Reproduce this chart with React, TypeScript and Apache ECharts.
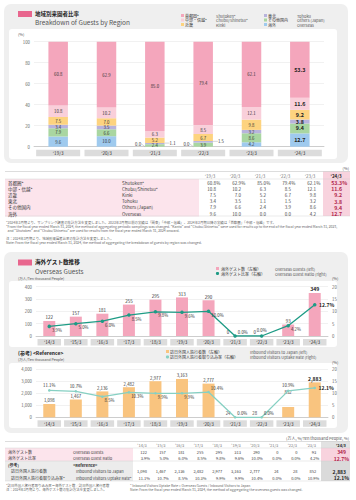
import React, { useEffect, useRef } from "react";
import * as echarts from "echarts";

const FONT = '"Noto Sans CJK JP", "Noto Sans", sans-serif';

// ---- Data: breakdown of guests by region (%) ----
const regionYears = ["'19/3", "'20/3", "'21/3", "'22/3", "'23/3", "'24/3"];
const regionNamesJa = ["首都圏*", "中部・信越*", "近畿", "東北", "その他国内", "海外"];
const regionNamesEn = ["Shutoken*", "Chubu/Shinetsu*", "Kinki", "Tohoku", "Others (Japan)", "Overseas"];
const shutoken = [60.8, 62.9, 85.0, 79.4, 62.1, 53.3];
const chubu = [10.8, 10.2, 6.3, 8.5, 12.1, 11.6];
const kinki = [7.5, 7.0, 5.2, 6.7, 9.8, 9.2];
const tohoku = [3.4, 3.5, 1.1, 1.5, 3.2, 3.8];
const othersJapan = [7.9, 6.6, 2.4, 3.9, 8.6, 9.4];
const overseas = [9.6, 10.0, 0.0, 0.0, 4.2, 12.7];
const regionSeries = [shutoken, chubu, kinki, tohoku, othersJapan, overseas];
const regionColors = ["#f4a6bc", "#f9cfda", "#fdd37f", "#b8b3dc", "#a9d6a1", "#9fcaee"];

// ---- Data: overseas guests ----
const guestYears = ["'14/3", "'15/3", "'16/3", "'17/3", "'18/3", "'19/3", "'20/3", "'21/3", "'22/3", "'23/3", "'24/3"];
const overseasGuests = [122, 157, 181, 255, 295, 313, 290, 0, 0, 93, 349];
const overseasRatio = [3.9, 5.0, 6.0, 8.5, 9.8, 9.6, 10.0, 0.0, 0.0, 4.2, 12.7];
const inboundVisitors = [1098, 1467, 2136, 2482, 2977, 3163, 2777, 24, 28, 852, 2883];
const uptakeRate = [11.1, 10.7, 8.5, 10.3, 9.9, 9.9, 10.4, 0.0, 0.0, 10.9, 12.1];

// label placement styles
const ratioLabelPos = ["rb", "rb", "rb", "rb", "rb", "rb", "rb", "ra", "t", "rb", "r"];
const uptakeLabelPos = ["t", "t", "rb", "rb", "rb", "rb", "ra", "ra", "ra", "t", "r"];

const fmt = (v: number) => v.toLocaleString("en-US");

const T = (text: string, x: number, y: number, o: any = {}) => ({
  type: "text",
  x,
  y,
  silent: true,
  z: 5,
  style: {
    text,
    fill: o.fill || "#333",
    fontSize: o.size || 4.5,
    fontFamily: FONT,
    fontWeight: o.bold ? "bold" : "normal",
    align: o.align || "left",
    verticalAlign: "middle",
  },
});
const R = (x: number, y: number, w: number, h: number, fill: string, r = 0, z = -10) => ({
  type: "rect",
  silent: true,
  z,
  shape: { x, y, width: w, height: h, r },
  style: { fill },
});
const L = (x1: number, y1: number, x2: number, y2: number, stroke = "#c8c8c8", w = 0.5, z = -5) => ({
  type: "line",
  silent: true,
  z,
  shape: { x1, y1, x2, y2 },
  style: { stroke, lineWidth: w },
});

function posLabel(code: string, extra: any = {}) {
  if (code === "rb") return { position: "right", distance: 1, offset: [0, 3.5], ...extra };
  if (code === "ra") return { position: "right", distance: 1, offset: [0, -4], ...extra };
  if (code === "t") return { position: "top", distance: 2, ...extra };
  return { position: "right", distance: 2.5, ...extra };
}

function buildGraphics() {
  const g: any[] = [];
  // ===== Panel 1 =====
  g.push(R(4, 4, 344, 159, "#efefef", 7, -20));
  g.push(R(9, 29, 328, 130, "#ffffff", 3, -15));
  g.push(R(18, 11, 14, 6, "#e8668e", 0, 1));
  g.push(T("地域別来園者比率", 35, 14, { size: 5.5, bold: true, fill: "#222" }));
  g.push(T("Breakdown of Guests by Region", 35, 21.5, { size: 6.5, fill: "#555" }));
  g.push(T("(%)", 18, 34, { size: 4, fill: "#555" }));
  // legend
  const legCols = [
    { sq: 181, ja: 185, en: 216 },
    { sq: 264, ja: 268, en: 297 },
  ];
  for (let i = 0; i < 6; i++) {
    const c = legCols[Math.floor(i / 3)];
    const y = 15.5 + (i % 3) * 4.5;
    g.push(R(c.sq, y - 1.5, 3, 3, regionColors[i], 0, 1));
    g.push(T(regionNamesJa[i], c.ja, y, { size: 4, fill: "#333" }));
    g.push(T(regionNamesEn[i], c.en, y, { size: 4, fill: "#555" }));
  }

  // ===== Table 1 =====
  const colNum = [216, 241, 266, 291, 316, 342];
  g.push(T("(%)", 349, 168, { size: 4, align: "right", fill: "#555" }));
  g.push(R(5, 179, 194, 37.5, "#fce4ec", 0, -12));
  g.push(R(323, 171.5, 27, 44.5, "#f8d3de", 0, -12));
  g.push(L(5, 171.5, 350, 171.5, "#bbbbbb", 0.5));
  g.push(L(5, 179, 350, 179, "#cccccc", 0.4));
  g.push(L(5, 216, 350, 216, "#cccccc", 0.4));
  regionYears.forEach((yr, j) => {
    g.push(T(yr, colNum[j] - 6, 175.5, { size: 4.5, align: "center", fill: j === 5 ? "#222" : "#777", bold: j === 5 }));
  });
  regionSeries.forEach((arr, i) => {
    const y = 182.5 + 6.2 * i;
    g.push(T(regionNamesJa[i], 8, y, { size: 4.5 }));
    g.push(T(regionNamesEn[i], 122, y, { size: 4.5, fill: "#444" }));
    arr.forEach((v, j) => {
      const last = j === 5;
      g.push(T(v.toFixed(1), colNum[j], y, { size: last ? 5.2 : 4.5, align: "right", bold: last, fill: last ? "#b01e4a" : "#444" }));
      if (i === 0) g.push(T("%", colNum[j] + 0.3, y, { size: last ? 5.2 : 4.5, bold: last, fill: last ? "#b01e4a" : "#444" }));
    });
  });
  // notes
  const nFill = "#666";
  g.push(T("*2024年3月期より、サンプリング調査の集計方法を変更しました。2023年3月期以前の実績は「関東」「中部・信越」、2024年3月期以降の実績は「首都圏」「中部・信越」です。", 6, 222.5, { size: 3.4, fill: nFill }));
  g.push(T("*From the fiscal year ended March 31, 2024, the method of aggregating periodic samplings was changed. \"Kanto\" and \"Chubu/Shinetsu\" were used for results up to the end of the fiscal year ended March 31, 2023,", 6, 226.5, { size: 3.4, fill: nFill }));
  g.push(T("  and \"Shutoken\" and \"Chubu/Shinetsu\" are used for results from the fiscal year ended March 31, 2024 onward.", 6, 230.5, { size: 3.4, fill: nFill }));
  g.push(T("注：2024年3月期より、地域別来園者比率の集計方法を変更しました。", 6, 238, { size: 3.4, fill: nFill }));
  g.push(T("Note: From the fiscal year ended March 31, 2024, the method of aggregating the breakdown of guests by region was changed.", 6, 242, { size: 3.4, fill: nFill }));

  // ===== Panel 2 =====
  g.push(R(4, 252, 344, 181, "#efefef", 7, -20));
  g.push(R(9, 281, 328, 66, "#ffffff", 3, -15));
  g.push(R(9, 363, 328, 65, "#ffffff", 3, -15));
  g.push(R(18, 259.5, 14, 6, "#e8668e", 0, 1));
  g.push(T("海外ゲスト数推移", 35, 262.3, { size: 5.6, bold: true, fill: "#222" }));
  g.push(T("Overseas Guests", 35, 271.2, { size: 6.4, fill: "#555" }));
  g.push(T("(万人/Ten thousand People)", 18, 278.2, { size: 3.6, fill: "#555" }));
  // legend 1
  g.push(R(216, 267, 3, 3, "#f4a6bc", 0, 1));
  g.push({ type: "circle", silent: true, z: 1, shape: { cx: 217.5, cy: 273.5, r: 1.6 }, style: { fill: "#1e9b85" } });
  g.push(T("海外ゲスト数（左軸）", 221, 268.5, { size: 4 }));
  g.push(T("海外ゲスト比率（右軸）", 221, 273.5, { size: 4 }));
  g.push(T("Overseas Guests (left)", 275, 268.5, { size: 4, fill: "#555" }));
  g.push(T("Overseas Guest Ratio (right)", 275, 273.5, { size: 4, fill: "#555" }));
  g.push(T("(%)", 332, 278, { size: 4, fill: "#555" }));
  // reference header
  g.push(T("(参考) <Reference>", 18, 352, { size: 5, bold: true, fill: "#222" }));
  g.push(T("(万人/Ten thousand People)", 18, 359, { size: 3.6, fill: "#555" }));
  g.push(R(166, 350, 3, 3, "#f9c47f", 0, 1));
  g.push({ type: "circle", silent: true, z: 1, shape: { cx: 167.5, cy: 357, r: 1.6 }, style: { fill: "#86d0c3" } });
  g.push(T("訪日外国人旅行者数（左軸）", 170, 351.5, { size: 4 }));
  g.push(T("訪日外国人旅行者取り込み率（右軸）", 170, 357, { size: 4 }));
  g.push(T("Inbound Visitors to Japan (left)", 250, 351.5, { size: 4, fill: "#555" }));
  g.push(T("Inbound Visitors Uptake Rate (right)", 250, 357, { size: 4, fill: "#555" }));
  g.push(T("(%)", 332, 362, { size: 4, fill: "#555" }));

  // ===== Table 2 =====
  const colR = guestYears.map((_, j) => (j < 10 ? 147 + 18.8 * j : 346));
  g.push(T("(万人, %/Ten thousand People, %)", 349, 438, { size: 4, align: "right", fill: "#555" }));
  g.push(R(5, 448, 128, 13, "#fce4ec", 0, -12));
  g.push(R(5, 461, 128, 20, "#ececec", 0, -12));
  g.push(R(321, 441.5, 29, 6.5, "#e2e2e2", 0, -12));
  g.push(R(321, 448, 29, 13, "#f8d3de", 0, -12));
  g.push(R(321, 461, 29, 20, "#dadada", 0, -12));
  g.push(L(5, 441.5, 350, 441.5, "#bbbbbb", 0.5));
  g.push(L(5, 448, 350, 448, "#cccccc", 0.4));
  g.push(L(5, 461, 350, 461, "#cccccc", 0.4));
  g.push(L(5, 481, 350, 481, "#cccccc", 0.4));
  guestYears.forEach((yr, j) => {
    g.push(T(yr, colR[j] - 5, 445, { size: 4, align: "center", fill: j === 10 ? "#222" : "#777", bold: j === 10 }));
  });
  const rowsY = [451.5, 458, 464.5, 471, 477.5];
  const ls = 4;
  g.push(T("海外ゲスト数", 8, rowsY[0], { size: ls }));
  g.push(T("Overseas Guests", 73, rowsY[0], { size: ls, fill: "#444" }));
  g.push(T("海外ゲスト比率", 8, rowsY[1], { size: ls }));
  g.push(T("Overseas Guest Ratio", 73, rowsY[1], { size: ls, fill: "#444" }));
  g.push(T("(参考)", 8, rowsY[2], { size: ls, bold: true }));
  g.push(T("<Reference>", 73, rowsY[2], { size: ls, bold: true }));
  g.push(T("訪日外国人旅行者数", 11, rowsY[3], { size: ls }));
  g.push(T("Inbound Visitors to Japan", 76, rowsY[3], { size: ls, fill: "#444" }));
  g.push(T("訪日外国人旅行者取り込み率*", 11, rowsY[4], { size: ls }));
  g.push(T("Inbound Visitors Uptake Rate*", 76, rowsY[4], { size: ls, fill: "#444" }));
  guestYears.forEach((_, j) => {
    const last = j === 10;
    const sz = last ? 5 : 4;
    g.push(T(String(overseasGuests[j]), colR[j], rowsY[0], { size: sz, align: "right", bold: last, fill: last ? "#b01e4a" : "#444" }));
    g.push(T(overseasRatio[j].toFixed(1) + "%", colR[j] + 3, rowsY[1], { size: sz, align: "right", bold: last, fill: last ? "#b01e4a" : "#444" }));
    g.push(T(fmt(inboundVisitors[j]), colR[j], rowsY[3], { size: sz, align: "right", bold: last, fill: last ? "#222" : "#444" }));
    g.push(T(uptakeRate[j].toFixed(1) + "%", colR[j] + 3, rowsY[4], { size: sz, align: "right", bold: last, fill: last ? "#222" : "#444" }));
  });
  g.push(T("*訪日外国人旅行者取り込み率＝海外ゲスト数／訪日外国人旅行者数", 6, 485, { size: 3.4, fill: nFill }));
  g.push(T("注：2024年3月期より、海外ゲスト数の集計方法を変更しました。", 6, 489.5, { size: 3.4, fill: nFill }));
  g.push(T("* Inbound Visitors Uptake Rate = Overseas Guests / Inbound Visitors to Japan", 130, 485, { size: 3.4, fill: nFill }));
  g.push(T("Note: From the fiscal year ended March 31, 2024, the method of aggregating the overseas guests was changed.", 130, 489.5, { size: 3.4, fill: nFill }));
  return g;
}

function catAxis(gridIndex: number, data: string[], boxW: number) {
  return {
    type: "category",
    gridIndex,
    data,
    axisTick: { show: false },
    axisLine: { show: true, lineStyle: { color: "#b5b5b5", width: 0.6 } },
    axisLabel: {
      margin: 3,
      fontSize: 4.6,
      color: "#333",
      fontFamily: FONT,
      backgroundColor: "#dcdcdc",
      width: boxW,
      height: 6.5,
      lineHeight: 6.5,
      align: "center",
    },
  };
}
function valAxis(gridIndex: number, min: number, max: number, interval: number, pos: string, split: boolean, formatter?: any) {
  return {
    type: "value",
    gridIndex,
    position: pos,
    min,
    max,
    interval,
    axisLine: { show: false },
    axisTick: { show: false },
    splitLine: { show: split, lineStyle: { color: "#e3e3e3", width: 0.5 } },
    axisLabel: { fontSize: 4.3, color: "#666", margin: 4, fontFamily: FONT, formatter },
  };
}

export default function App() {
  const ref = useRef<HTMLDivElement>(null);
  useEffect(() => {
    if (!ref.current) return;
    const chart = echarts.init(ref.current, undefined, { renderer: "svg" });

    const order = [5, 4, 3, 2, 1, 0]; // bottom -> top: overseas ... shutoken
    const stackSeries = order.map((idx) => {
      const arr = regionSeries[idx];
      const s: any = {
        type: "bar",
        name: regionNamesEn[idx],
        xAxisIndex: 0,
        yAxisIndex: 0,
        stack: "region",
        barWidth: 19.5,
        itemStyle: { color: regionColors[idx] },
        label: {
          show: true,
          position: "inside",
          fontSize: 4.3,
          color: "#333",
          fontFamily: FONT,
          formatter: (p: any) => Number(p.value).toFixed(1),
        },
        data: arr.map((v, j) =>
          j === 5 ? { value: v, label: { fontSize: 5.4, fontWeight: "bold", color: "#222" } } : v
        ),
      };
      if (idx === 5) {
        s.labelLine = { show: true, lineStyle: { color: "#999", width: 0.4 } };
        s.labelLayout = (p: any) =>
          p.dataIndex === 2 || p.dataIndex === 3
            ? { x: p.rect.x - 4, y: p.rect.y - 3, align: "right", verticalAlign: "middle" }
            : {};
      }
      if (idx === 3) {
        s.labelLine = { show: true, lineStyle: { color: "#999", width: 0.4 } };
        s.labelLayout = (p: any) =>
          p.dataIndex === 2 || p.dataIndex === 3
            ? { x: p.rect.x + p.rect.width + 5, y: p.rect.y + p.rect.height / 2 - 0.5, align: "left", verticalAlign: "middle" }
            : {};
      }
      return s;
    });

    const option: any = {
      animation: false,
      textStyle: { fontFamily: FONT },
      grid: [
        { left: 34, width: 290, top: 41.7, height: 105 },
        { left: 36, width: 292, top: 286.7, height: 49.3 },
        { left: 36, width: 292, top: 368.8, height: 48.5 },
      ],
      xAxis: [catAxis(0, regionYears, 44), catAxis(1, guestYears, 23.5), catAxis(2, guestYears, 23.5)],
      yAxis: [
        valAxis(0, 0, 100, 20, "left", true),
        valAxis(1, 0, 400, 100, "left", true),
        valAxis(1, 0, 20, 5, "right", false),
        valAxis(2, 0, 4000, 1000, "left", true, (v: number) => fmt(v)),
        valAxis(2, 0, 20, 5, "right", false),
      ],
      graphic: buildGraphics(),
      series: [
        ...stackSeries,
        {
          type: "bar",
          name: "Overseas Guests",
          xAxisIndex: 1,
          yAxisIndex: 1,
          barWidth: 12,
          itemStyle: { color: "#f4a6bc" },
          label: { show: true, position: "top", distance: 1.5, fontSize: 4.5, color: "#333", fontFamily: FONT },
          data: overseasGuests.map((v, j) =>
            j === 10
              ? { value: v, label: { fontWeight: "bold", fontSize: 5.2, color: "#222" } }
              : j === 7 || j === 8
              ? { value: v, label: { offset: [-7, 0] } }
              : v
          ),
        },
        {
          type: "line",
          name: "Overseas Guest Ratio",
          xAxisIndex: 1,
          yAxisIndex: 2,
          symbol: "circle",
          symbolSize: 3.5,
          lineStyle: { color: "#1e9b85", width: 1.3 },
          itemStyle: { color: "#1e9b85" },
          label: { show: true, fontSize: 4.3, color: "#333", fontFamily: FONT, formatter: (p: any) => Number(p.value).toFixed(1) + "%" },
          data: overseasRatio.map((v, j) => ({
            value: v,
            label: posLabel(ratioLabelPos[j], j === 10 ? { fontWeight: "bold", fontSize: 5, color: "#222" } : {}),
          })),
          z: 5,
        },
        {
          type: "bar",
          name: "Inbound Visitors to Japan",
          xAxisIndex: 2,
          yAxisIndex: 3,
          barWidth: 12,
          itemStyle: { color: "#f9c47f" },
          label: { show: true, position: "top", distance: 1.5, fontSize: 4.3, color: "#333", fontFamily: FONT, formatter: (p: any) => fmt(p.value) },
          data: inboundVisitors.map((v, j) =>
            j === 10
              ? { value: v, label: { fontWeight: "bold", fontSize: 5, color: "#222" } }
              : j === 7 || j === 8
              ? { value: v, label: { offset: [-7, 0] } }
              : j === 9
              ? { value: v, label: { offset: [0, -11] } }
              : v
          ),
        },
        {
          type: "line",
          name: "Inbound Visitors Uptake Rate",
          xAxisIndex: 2,
          yAxisIndex: 4,
          symbol: "circle",
          symbolSize: 2.5,
          lineStyle: { color: "#86d0c3", width: 1.3 },
          itemStyle: { color: "#86d0c3" },
          label: { show: true, fontSize: 4.3, color: "#333", fontFamily: FONT, formatter: (p: any) => Number(p.value).toFixed(1) + "%" },
          data: uptakeRate.map((v, j) => ({
            value: v,
            label: posLabel(uptakeLabelPos[j], j === 10 ? { fontWeight: "bold", fontSize: 5, color: "#222" } : {}),
          })),
          z: 5,
        },
      ],
    };
    chart.setOption(option);
    return () => chart.dispose();
  }, []);
  return (
    <div
      ref={ref}
      style={{ position: "absolute", left: 0, top: 0, width: 356, height: 500, background: "#ffffff" }}
    />
  );
}
